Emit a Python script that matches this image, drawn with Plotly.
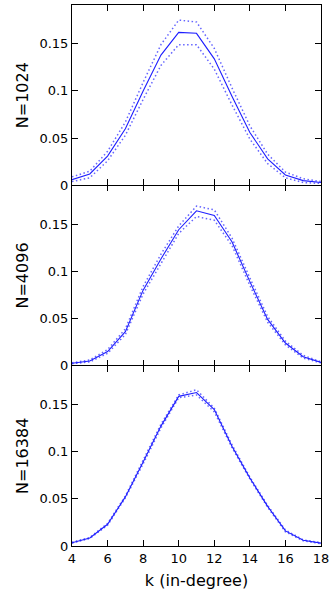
import plotly.graph_objects as go
from plotly.subplots import make_subplots

# in-degree values on the x axis
k = [4, 5, 6, 7, 8, 9, 10, 11, 12, 13, 14, 15, 16, 17, 18]

# N=1024: mean and the band around it
mean_1024 = [0.006, 0.012, 0.031, 0.060, 0.100, 0.138, 0.162, 0.161, 0.134, 0.094, 0.056, 0.028, 0.011, 0.005, 0.003]
upper_1024 = [0.009, 0.015, 0.036, 0.067, 0.109, 0.149, 0.175, 0.173, 0.145, 0.103, 0.063, 0.033, 0.014, 0.007, 0.004]
lower_1024 = [0.004, 0.008, 0.026, 0.053, 0.091, 0.127, 0.149, 0.149, 0.123, 0.085, 0.049, 0.023, 0.008, 0.003, 0.002]

# N=4096
mean_4096 = [0.0025, 0.005, 0.015, 0.036, 0.080, 0.113, 0.144, 0.164, 0.159, 0.131, 0.089, 0.049, 0.024, 0.0095, 0.0035]
upper_4096 = [0.003, 0.006, 0.017, 0.039, 0.084, 0.118, 0.148, 0.169, 0.165, 0.135, 0.093, 0.052, 0.026, 0.011, 0.004]
lower_4096 = [0.002, 0.004, 0.013, 0.033, 0.076, 0.108, 0.140, 0.158, 0.154, 0.127, 0.085, 0.046, 0.022, 0.008, 0.003]

# N=16384
mean_16384 = [0.0035, 0.0085, 0.023, 0.052, 0.089, 0.127, 0.1585, 0.1625, 0.1445, 0.1055, 0.072, 0.042, 0.016, 0.006, 0.003]
upper_16384 = [0.004, 0.009, 0.024, 0.053, 0.091, 0.129, 0.160, 0.1655, 0.146, 0.107, 0.073, 0.043, 0.017, 0.0065, 0.0035]
lower_16384 = [0.003, 0.008, 0.022, 0.051, 0.087, 0.125, 0.157, 0.160, 0.142, 0.104, 0.071, 0.041, 0.015, 0.0055, 0.0025]

panel_names = ['N=1024', 'N=4096', 'N=16384']
panels = [
    (mean_1024, upper_1024, lower_1024),
    (mean_4096, upper_4096, lower_4096),
    (mean_16384, upper_16384, lower_16384),
]

y_ticks = [0, 0.05, 0.1, 0.15]
y_tick_text = ['0', '0.05', '0.1', '0.15']

fig = make_subplots(rows=3, cols=1, shared_xaxes=True, vertical_spacing=0)

for i, (mean, upper, lower) in enumerate(panels):
    row = i + 1
    for band in (upper, lower):
        fig.add_trace(go.Scatter(
            x=k, y=band, mode='lines',
            line=dict(color='rgba(50,50,255,0.75)', width=1.5, dash='1.5px,2.5px')), row=row, col=1)
    fig.add_trace(go.Scatter(
        x=k, y=mean, mode='lines',
        line=dict(color='rgb(30,30,255)', width=1.1)), row=row, col=1)
    fig.update_yaxes(title=dict(text=panel_names[i], font=dict(size=16), standoff=6),
                     row=row, col=1)

fig.update_xaxes(range=[4, 18], tickvals=list(range(4, 19, 2)),
                 ticks='inside', ticklen=6, tickcolor='black', showline=True,
                 linecolor='black', linewidth=1, mirror='ticks', showgrid=False,
                 zeroline=False, tickfont=dict(size=13), automargin=False,
                 ticklabeloverflow='allow')
# middle panel borrows its frame lines from its neighbours, so no double line
fig.update_xaxes(showline=False, row=2, col=1)
fig.update_xaxes(title=dict(text='k (in-degree)', font=dict(size=16), standoff=10), row=3, col=1)
fig.update_yaxes(range=[0, 0.191], tickvals=y_ticks, ticktext=y_tick_text,
                 ticks='inside', ticklen=6, tickcolor='black', showline=True,
                 linecolor='black', linewidth=1, mirror='ticks', showgrid=False,
                 zeroline=False, tickfont=dict(size=13), automargin=False)

fig.update_layout(
    width=329, height=600,
    margin=dict(l=72, r=8, t=5, b=54),
    showlegend=False,
    plot_bgcolor='white', paper_bgcolor='white',
    font=dict(family='DejaVu Sans', color='black'),
)

# page body has a default margin; drop it so the figure sits at the corner
fig.write_html('out.html', config={'displayModeBar': False},
               post_script="document.body.style.margin='0';")
